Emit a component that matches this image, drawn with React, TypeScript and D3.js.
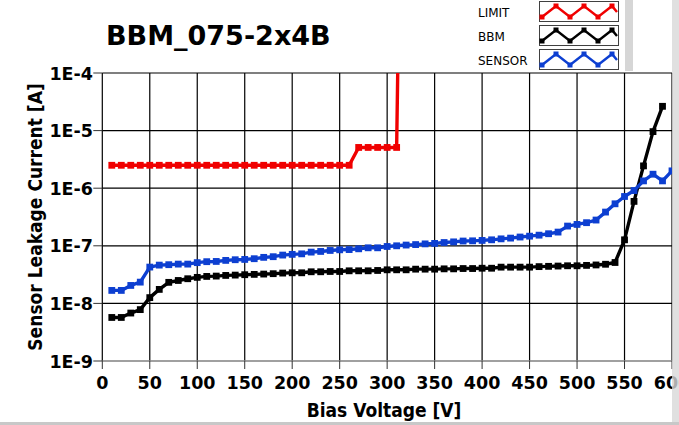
import React, { useEffect, useRef } from 'react';
import * as d3 from 'd3';

const limitVolts = [10, 20, 30, 40, 50, 60, 70, 80, 90, 100, 110, 120, 130, 140, 150, 160, 170, 180, 190, 200, 210, 220, 230, 240, 250, 260, 270, 280, 290, 300, 310, 312];
const limitCurrent = [2.5e-6, 2.5e-6, 2.5e-6, 2.5e-6, 2.5e-6, 2.5e-6, 2.5e-6, 2.5e-6, 2.5e-6, 2.5e-6, 2.5e-6, 2.5e-6, 2.5e-6, 2.5e-6, 2.5e-6, 2.5e-6, 2.5e-6, 2.5e-6, 2.5e-6, 2.5e-6, 2.5e-6, 2.5e-6, 2.5e-6, 2.5e-6, 2.5e-6, 2.5e-6, 5.1e-6, 5.1e-6, 5.1e-6, 5.1e-6, 5.1e-6, 1e-3];

const bbmVolts = [10, 20, 30, 40, 50, 60, 70, 80, 90, 100, 110, 120, 130, 140, 150, 160, 170, 180, 190, 200, 210, 220, 230, 240, 250, 260, 270, 280, 290, 300, 310, 320, 330, 340, 350, 360, 370, 380, 390, 400, 410, 420, 430, 440, 450, 460, 470, 480, 490, 500, 510, 520, 530, 540, 550, 560, 570, 580, 590];
const bbmCurrent = [5.7e-9, 5.7e-9, 6.8e-9, 7.8e-9, 1.26e-8, 1.75e-8, 2.32e-8, 2.5e-8, 2.68e-8, 2.83e-8, 2.94e-8, 2.98e-8, 3.06e-8, 3.1e-8, 3.15e-8, 3.19e-8, 3.23e-8, 3.28e-8, 3.36e-8, 3.4e-8, 3.4e-8, 3.54e-8, 3.54e-8, 3.58e-8, 3.58e-8, 3.68e-8, 3.68e-8, 3.68e-8, 3.73e-8, 3.83e-8, 3.83e-8, 3.83e-8, 3.93e-8, 3.93e-8, 3.93e-8, 3.98e-8, 3.98e-8, 4.03e-8, 4.03e-8, 4.08e-8, 4.08e-8, 4.26e-8, 4.26e-8, 4.26e-8, 4.26e-8, 4.35e-8, 4.4e-8, 4.45e-8, 4.5e-8, 4.5e-8, 4.57e-8, 4.65e-8, 4.78e-8, 5.13e-8, 1.27e-7, 5.9e-7, 2.44e-6, 9.6e-6, 2.64e-5];

const sensorVolts = [10, 20, 30, 40, 50, 60, 70, 80, 90, 100, 110, 120, 130, 140, 150, 160, 170, 180, 190, 200, 210, 220, 230, 240, 250, 260, 270, 280, 290, 300, 310, 320, 330, 340, 350, 360, 370, 380, 390, 400, 410, 420, 430, 440, 450, 460, 470, 480, 490, 500, 510, 520, 530, 540, 550, 560, 570, 580, 590, 600];
const sensorCurrent = [1.68e-8, 1.68e-8, 2.05e-8, 2.34e-8, 4.27e-8, 4.62e-8, 4.7e-8, 4.81e-8, 4.81e-8, 5.1e-8, 5.3e-8, 5.35e-8, 5.58e-8, 5.73e-8, 5.8e-8, 5.97e-8, 6.3e-8, 6.47e-8, 6.9e-8, 7.1e-8, 7.25e-8, 7.77e-8, 7.98e-8, 8.3e-8, 8.52e-8, 8.6e-8, 8.87e-8, 9.23e-8, 9.23e-8, 9.73e-8, 1.0e-7, 1.03e-7, 1.05e-7, 1.08e-7, 1.1e-7, 1.14e-7, 1.17e-7, 1.21e-7, 1.22e-7, 1.24e-7, 1.27e-7, 1.32e-7, 1.36e-7, 1.42e-7, 1.47e-7, 1.53e-7, 1.62e-7, 1.73e-7, 2.2e-7, 2.35e-7, 2.52e-7, 2.8e-7, 3.85e-7, 5.36e-7, 7.18e-7, 9.1e-7, 1.34e-6, 1.75e-6, 1.34e-6, 2.0e-6];

const xTicks = [0, 50, 100, 150, 200, 250, 300, 350, 400, 450, 500, 550, 600];
const yTicks = [1e-9, 1e-8, 1e-7, 1e-6, 1e-5, 1e-4];
const yTickLabels = ['1E-9', '1E-8', '1E-7', '1E-6', '1E-5', '1E-4'];

const seriesNames = ['LIMIT', 'BBM', 'SENSOR'];
const seriesColors = ['#f00000', '#000000', '#0d3fd1'];

const FONT = "'DejaVu Sans', sans-serif";

export default function App() {
  const svgRef = useRef<SVGSVGElement | null>(null);

  useEffect(() => {
    if (!svgRef.current) return;
    const width = 679;
    const height = 425;
    const left = 102.3;
    const right = 672;
    const top = 73;
    const bottom = 361;

    const root = d3.select(svgRef.current);
    root.selectAll('*').remove();
    root.attr('width', width).attr('height', height);

    root.append('rect').attr('width', width).attr('height', height).attr('fill', '#ffffff');

    const x = d3.scaleLinear().domain([0, 600]).range([left, right]);
    const y = d3.scaleLog().domain([1e-9, 1e-4]).range([bottom, top]);

    // grid
    const grid = root.append('g').attr('stroke', '#000').attr('stroke-width', 1.2);
    grid.selectAll('line.v')
      .data(xTicks)
      .enter()
      .append('line')
      .attr('x1', d => x(d)).attr('x2', d => x(d))
      .attr('y1', top).attr('y2', bottom);
    grid.selectAll('line.h')
      .data(yTicks.slice(1))
      .enter()
      .append('line')
      .attr('x1', left).attr('x2', right)
      .attr('y1', d => y(d)).attr('y2', d => y(d));

    // bottom axis line and ticks
    root.append('line')
      .attr('x1', left).attr('x2', right)
      .attr('y1', bottom).attr('y2', bottom)
      .attr('stroke', '#808080').attr('stroke-width', 1.5);
    root.selectAll('line.xt')
      .data(xTicks)
      .enter()
      .append('line')
      .attr('x1', d => x(d)).attr('x2', d => x(d))
      .attr('y1', bottom).attr('y2', bottom + 8)
      .attr('stroke', '#333');
    root.selectAll('line.yt')
      .data(yTicks)
      .enter()
      .append('line')
      .attr('x1', left - 9).attr('x2', left)
      .attr('y1', d => y(d)).attr('y2', d => y(d))
      .attr('stroke', '#333');

    root.selectAll('text.xl')
      .data(xTicks)
      .enter()
      .append('text')
      .attr('x', d => x(d))
      .attr('y', 388.5)
      .attr('text-anchor', 'middle')
      .style('font-family', FONT)
      .style('font-weight', 'bold')
      .style('font-size', '17.5px')
      .text(d => String(d));

    root.selectAll('text.yl')
      .data(yTicks)
      .enter()
      .append('text')
      .attr('x', 93)
      .attr('y', d => y(d) + 6.5)
      .attr('text-anchor', 'end')
      .style('font-family', FONT)
      .style('font-weight', 'bold')
      .style('font-size', '17.5px')
      .text((d, i) => yTickLabels[i]);

    // clip for the data
    root.append('clipPath').attr('id', 'plotclip')
      .append('rect')
      .attr('x', left).attr('y', top)
      .attr('width', right - left).attr('height', bottom - top);

    const plot = root.append('g').attr('clip-path', 'url(#plotclip)');
    const series = [
      { v: limitVolts, c: limitCurrent },
      { v: bbmVolts, c: bbmCurrent },
      { v: sensorVolts, c: sensorCurrent },
    ];
    const line = d3.line<[number, number]>()
      .x(d => x(d[0]))
      .y(d => y(d[1]));

    series.forEach((s, i) => {
      const pts: [number, number][] = s.v.map((v, k) => [v, s.c[k]]);
      plot.append('path')
        .attr('d', line(pts))
        .attr('fill', 'none')
        .attr('stroke', seriesColors[i])
        .attr('stroke-width', 3.4)
        .attr('stroke-linejoin', 'round');
      plot.selectAll('rect.m' + i)
        .data(pts.filter(p => p[1] < 1e-4))
        .enter()
        .append('rect')
        .attr('x', d => x(d[0]) - 3.4)
        .attr('y', d => y(d[1]) - 3.4)
        .attr('width', 6.8)
        .attr('height', 6.8)
        .attr('fill', seriesColors[i]);
    });

    // titles
    root.append('text')
      .attr('x', 106)
      .attr('y', 45)
      .style('font-family', FONT)
      .style('font-weight', 'bold')
      .style('font-size', '27px')
      .text('BBM_075-2x4B');

    root.append('text')
      .attr('x', 384)
      .attr('y', 416.5)
      .attr('text-anchor', 'middle')
      .style('font-family', FONT)
      .style('font-weight', 'bold')
      .style('font-stretch', 'condensed')
      .style('font-size', '19px')
      .text('Bias Voltage [V]');

    root.append('text')
      .attr('transform', `translate(41.5,${(top + bottom) / 2}) rotate(-90)`)
      .attr('text-anchor', 'middle')
      .style('font-family', FONT)
      .style('font-weight', 'bold')
      .style('font-stretch', 'condensed')
      .style('font-size', '19px')
      .text('Sensor Leakage Current [A]');

    // legend
    const lg = root.append('g');
    lg.append('rect')
      .attr('x', 625).attr('y', 0).attr('width', 8).attr('height', 71)
      .attr('fill', '#d6d6d6');
    const rowY = [12, 36, 60];
    seriesNames.forEach((name, i) => {
      lg.append('text')
        .attr('x', 478)
        .attr('y', rowY[i] + 4.5)
        .style('font-family', FONT)
        .style('font-size', '12px')
        .text(name);
      lg.append('rect')
        .attr('x', 539.5).attr('y', rowY[i] - 10.5)
        .attr('width', 79).attr('height', 20)
        .attr('fill', '#fff')
        .attr('stroke', '#404040')
        .attr('stroke-width', 1);
      const zig: [number, number][] = [
        [542, rowY[i] + 5], [556, rowY[i] - 6], [570, rowY[i] + 5], [584, rowY[i] - 6],
        [598, rowY[i] + 5], [612, rowY[i] - 6], [617, rowY[i]],
      ];
      lg.append('path')
        .attr('d', d3.line()(zig))
        .attr('fill', 'none')
        .attr('stroke', seriesColors[i])
        .attr('stroke-width', 2.5);
      lg.selectAll('rect.lm' + i)
        .data(zig.slice(0, 6))
        .enter()
        .append('rect')
        .attr('x', d => d[0] - 2.5)
        .attr('y', d => d[1] - 2.5)
        .attr('width', 5)
        .attr('height', 5)
        .attr('fill', seriesColors[i]);
    });

    // window edges
    root.append('rect')
      .attr('x', 672).attr('y', 0).attr('width', 7).attr('height', height)
      .attr('fill', '#d8d8d8').attr('opacity', 0.8);
    root.append('rect')
      .attr('x', 0).attr('y', 422).attr('width', width).attr('height', 3)
      .attr('fill', '#c8c8c8');
  }, []);

  return (
    <svg ref={svgRef} style={{ position: 'absolute', left: 0, top: 0, display: 'block' }}></svg>
  );
}
